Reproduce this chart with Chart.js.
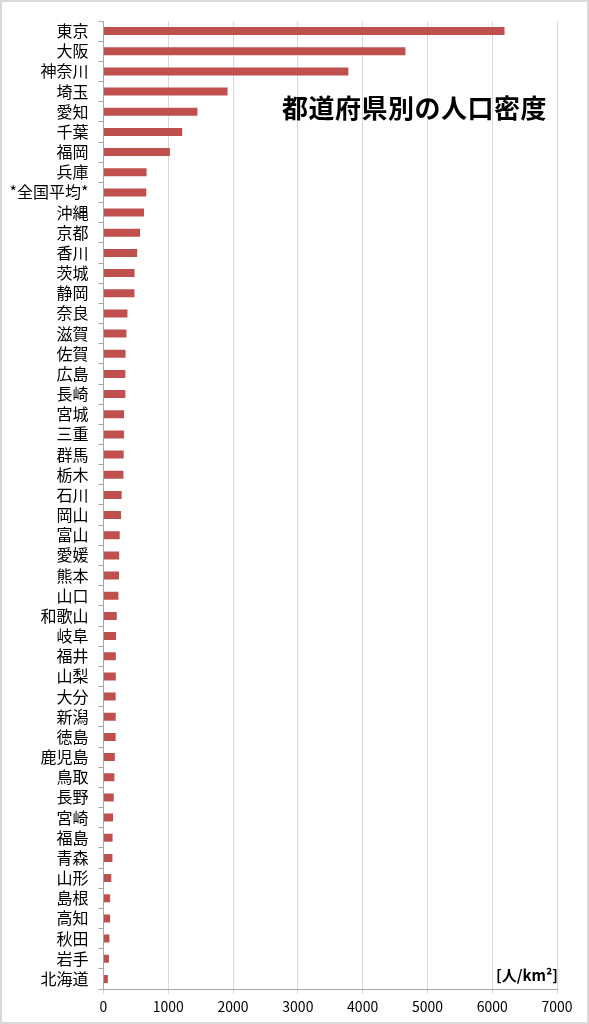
<!DOCTYPE html>
<html lang="ja">
<head>
  <meta charset="UTF-8">
  <title>都道府県別の人口密度</title>
  <script src="https://cdn.jsdelivr.net/npm/chart.js"></script>
  <style>
    body { margin: 0; background: #fff; }
    #wrap { position: relative; width: 589px; height: 1024px; }
    #frame { position: absolute; left: 0; top: 0; width: 589px; height: 1024px; box-sizing: border-box; border: 2px solid #d9d9d9; pointer-events: none; }
    #title { position: absolute; left: 282px; top: 94px; font: bold 26px "Noto Sans CJK JP", sans-serif; line-height: 26px; letter-spacing: 0.5px; color: #000; white-space: nowrap; }
    #unit { position: absolute; left: 496px; top: 966px; font: bold 15px "Noto Sans CJK JP", sans-serif; line-height: 18px; color: #000; white-space: nowrap; }
  </style>
</head>
<body>
  <div id="wrap">
    <canvas id="densityChart" width="589" height="1024"></canvas>
    <div id="title">都道府県別の人口密度</div>
    <div id="unit">[人/km²]</div>
    <div id="frame"></div>
  </div>

  <script>
    // 都道府県（上から順）
    const prefectures = [
      '東京', '大阪', '神奈川', '埼玉', '愛知', '千葉', '福岡', '兵庫', '*全国平均*', '沖縄',
      '京都', '香川', '茨城', '静岡', '奈良', '滋賀', '佐賀', '広島', '長崎', '宮城',
      '三重', '群馬', '栃木', '石川', '岡山', '富山', '愛媛', '熊本', '山口', '和歌山',
      '岐阜', '福井', '山梨', '大分', '新潟', '徳島', '鹿児島', '鳥取', '長野', '宮崎',
      '福島', '青森', '山形', '島根', '高知', '秋田', '岩手', '北海道'
    ];

    // 人口密度 [人/km²]
    const density = [
      6190, 4660, 3780, 1915, 1450, 1215, 1025, 665, 660, 625,
      565, 520, 480, 478, 370, 355, 340, 338, 338, 318,
      316, 312, 308, 280, 272, 250, 242, 240, 230, 205,
      193, 190, 190, 188, 188, 188, 175, 168, 158, 148,
      140, 138, 120, 102, 102, 92, 84, 68
    ];

    const xTicks = [0, 1000, 2000, 3000, 4000, 5000, 6000, 7000];

    const ctx = document.getElementById('densityChart').getContext('2d');
    new Chart(ctx, {
      type: 'bar',
      data: {
        labels: prefectures,
        datasets: [{
          label: '人口密度',
          data: density,
          backgroundColor: '#c0504d',
          borderWidth: 0,
          barPercentage: 0.4,
          categoryPercentage: 1.0
        }]
      },
      options: {
        indexAxis: 'y',
        responsive: false,
        animation: false,
        devicePixelRatio: 1,
        layout: { padding: { top: 21, right: 32, left: 0, bottom: 0 } },
        scales: {
          x: {
            min: 0,
            max: 7000,
            afterBuildTicks: function(scale) {
              scale.ticks = xTicks.map(v => ({ value: v }));
            },
            afterFit: function(scale) { scale.height = 35; },
            grid: { color: '#d9d9d9', tickLength: 5, tickColor: '#d9d9d9' },
            border: { color: '#a6a6a6' },
            ticks: {
              color: '#000',
              padding: 4,
              callback: function(value) { return String(value); },
              font: { family: '"Noto Sans CJK JP", sans-serif', size: 14 }
            }
          },
          y: {
            afterFit: function(scale) { scale.width = 103.5; },
            grid: { drawOnChartArea: false, color: '#a6a6a6', tickLength: 5, offset: true },
            border: { color: '#a6a6a6' },
            ticks: {
              color: '#000',
              padding: 10,
              autoSkip: false,
              font: { family: '"Noto Sans CJK JP", sans-serif', size: 16 }
            }
          }
        },
        plugins: {
          legend: { display: false },
          tooltip: { enabled: false }
        }
      }
    });
  </script>
</body>
</html>
